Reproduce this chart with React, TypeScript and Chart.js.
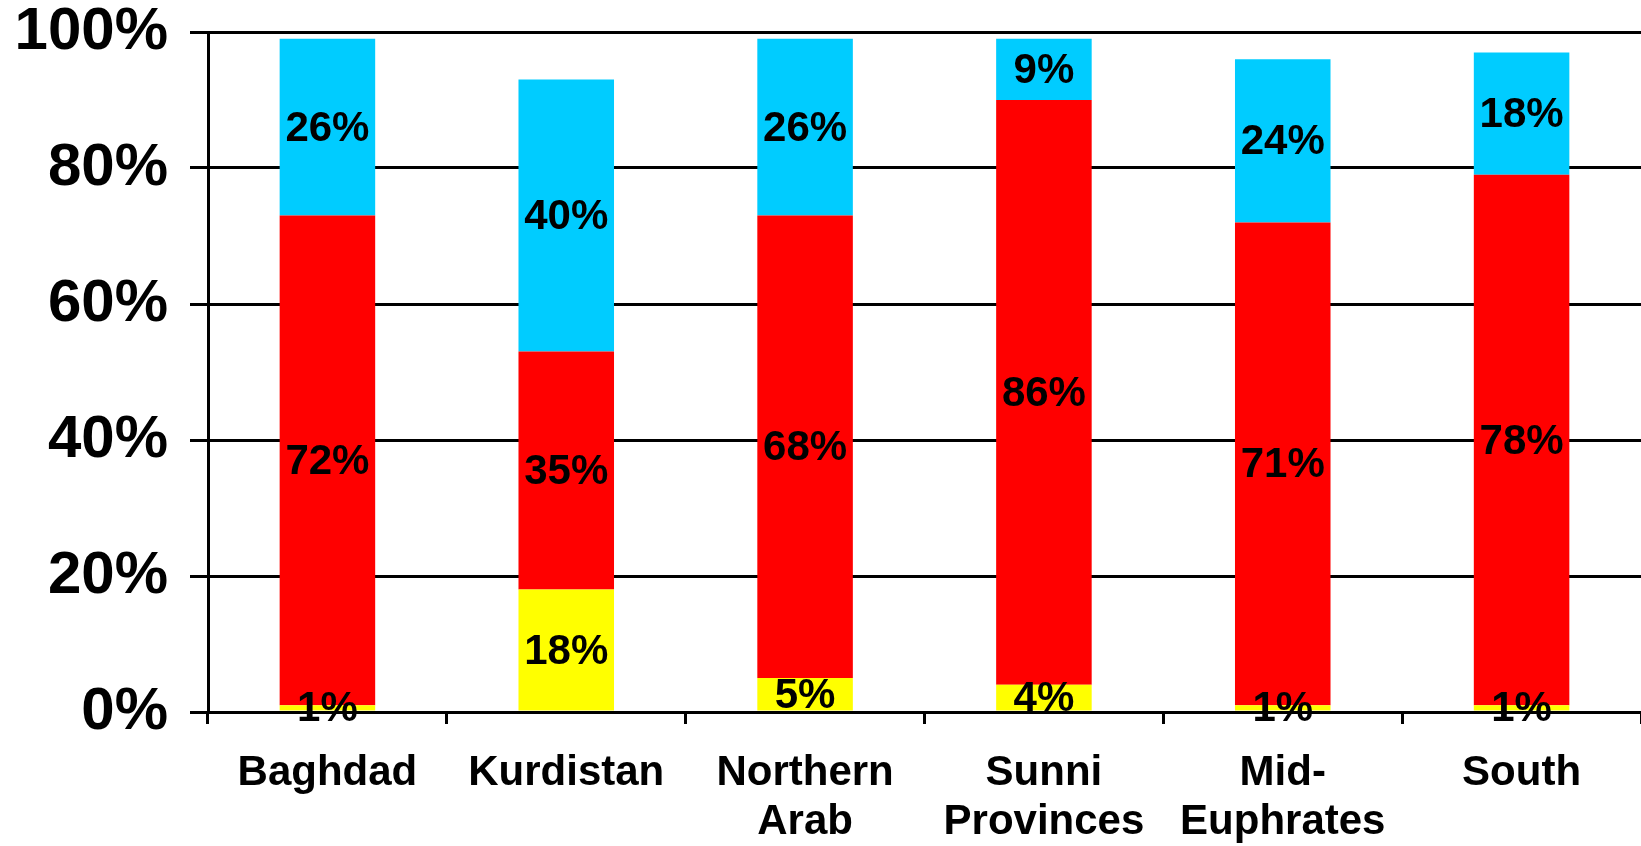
import React, { useEffect, useRef } from "react";
import { Chart, registerables } from "chart.js";

Chart.register(...registerables);

const categories: (string | string[])[] = [
  "Baghdad",
  "Kurdistan",
  ["Northern", "Arab"],
  ["Sunni", "Provinces"],
  ["Mid-", "Euphrates"],
  "South",
];
const yellowValues = [1, 18, 5, 4, 1, 1];
const redValues = [72, 35, 68, 86, 71, 78];
const cyanValues = [26, 40, 26, 9, 24, 18];
const yMax = 100;
const yStep = 20;

const FONT = '"Liberation Sans", Arial, Helvetica, sans-serif';

const labelPlugin = {
  id: "segmentLabels",
  afterDatasetsDraw(chart: any) {
    const ctx = chart.ctx;
    ctx.save();
    ctx.font = `bold 42px ${FONT}`;
    ctx.fillStyle = "#000";
    ctx.textAlign = "center";
    ctx.textBaseline = "middle";
    chart.data.datasets.forEach((ds: any, i: number) => {
      const meta = chart.getDatasetMeta(i);
      meta.data.forEach((bar: any, j: number) => {
        const v = ds.data[j];
        if (!v) return;
        const p = bar.getProps(["x", "y", "base"], true);
        ctx.fillText(v + "%", p.x, (p.y + p.base) / 2 + 2);
      });
    });
    ctx.restore();
  },
};

export default function App() {
  const ref = useRef<HTMLCanvasElement | null>(null);
  useEffect(() => {
    if (!ref.current) return;
    const chart = new Chart(ref.current, {
      type: "bar",
      data: {
        labels: categories as any,
        datasets: [
          { label: "Yellow", data: yellowValues, backgroundColor: "#FFFF00" },
          { label: "Red", data: redValues, backgroundColor: "#FF0000" },
          { label: "Cyan", data: cyanValues, backgroundColor: "#00CCFF" },
        ],
      },
      options: {
        animation: false,
        responsive: false,
        maintainAspectRatio: false,
        datasets: { bar: { barPercentage: 0.4, categoryPercentage: 1.0 } },
        layout: { padding: { top: 32, right: 0, left: 0, bottom: 0 } },
        plugins: { legend: { display: false }, tooltip: { enabled: false } },
        scales: {
          x: {
            stacked: true,
            grid: {
              display: true,
              drawOnChartArea: false,
              drawTicks: true,
              tickLength: 12,
              color: "#000",
              lineWidth: 3,
            },
            border: { display: true, color: "#000", width: 3 },
            ticks: {
              color: "#000",
              font: { family: FONT, size: 42, weight: "bold", lineHeight: 1.17 },
              padding: 25,
              maxRotation: 0,
              autoSkip: false,
            },
            afterFit(scale: any) {
              scale.height = 134;
            },
          },
          y: {
            stacked: true,
            min: 0,
            max: yMax,
            grid: {
              color: "#000",
              lineWidth: 3,
              tickLength: 18,
              drawTicks: true,
            },
            border: { display: true, color: "#000", width: 3 },
            ticks: {
              stepSize: yStep,
              color: "#000",
              font: { family: FONT, size: 60, weight: "bold", lineHeight: 0.3 },
              padding: 22,
              callback: (v: any) => v + "%",
            },
            afterFit(scale: any) {
              scale.width = 208;
            },
          },
        },
      } as any,
      plugins: [labelPlugin],
    });
    return () => chart.destroy();
  }, []);
  return (
    <div style={{ position: "absolute", left: 0, top: 0, width: 1641, height: 846, background: "#fff" }}>
      <canvas ref={ref} width={1641} height={846} style={{ display: "block" }} />
    </div>
  );
}
